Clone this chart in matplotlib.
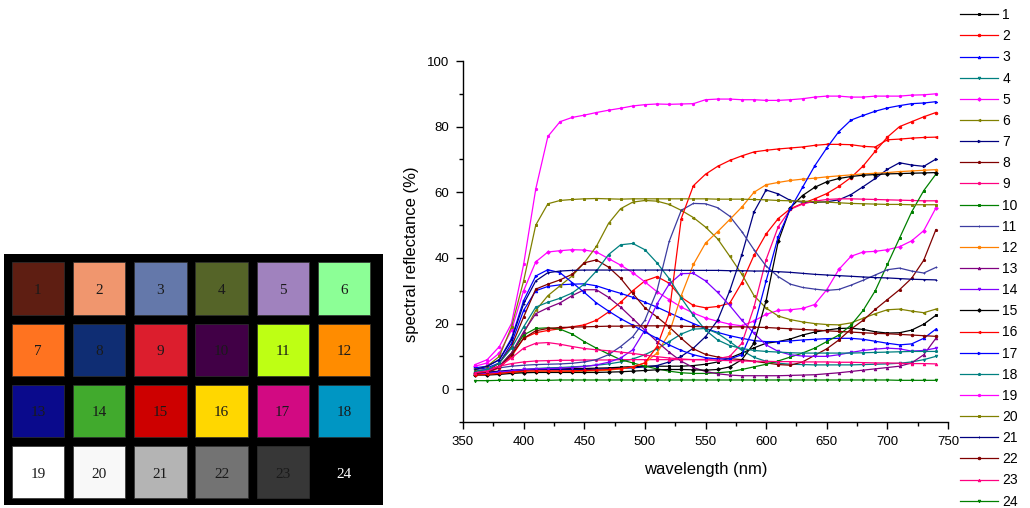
import numpy as np
import matplotlib
matplotlib.use("Agg")
import matplotlib.pyplot as plt
from matplotlib.patches import Rectangle
from matplotlib.ticker import MultipleLocator

plt.rcParams['font.family'] = ['Liberation Sans', 'DejaVu Sans']

# color checker patches (row by row)
patch_labels = [str(i) for i in range(1, 25)]
patch_colors = ['#5e1e12', '#f0966e', '#6478aa', '#556428', '#a082be', '#8cff96',
                '#ff7320', '#0f2d73', '#dc1e2d', '#410046', '#beff14', '#ff8c00',
                '#0a0a8c', '#41aa2d', '#cd0000', '#ffd700', '#d20a82', '#0096c3',
                '#ffffff', '#f8f8f8', '#b4b4b4', '#737373', '#373737', '#000000']

# spectral reflectance (%), 360-740 nm every 10 nm
wavelength = list(range(360, 741, 10))

r1 = [5.0, 5.0, 5.2, 5.5, 5.8, 6.0, 6.1, 6.2, 6.3, 6.3, 6.4, 6.5, 6.7, 6.9, 7.0, 7.0, 7.0, 7.0, 7.2, 7.6,
      8.3, 9.5, 11.0, 12.6, 14.0, 14.5, 15.3, 16.5, 17.4, 18.0, 18.5, 18.6, 18.2, 17.5, 17.1, 17.2, 18.0, 19.8, 22.5]
r2 = [4.5, 5.0, 6.5, 10.0, 15.5, 17.2, 17.9, 18.4, 19.0, 19.6, 21.0, 23.5, 26.5, 30.0, 33.0, 34.3, 32.3, 28.0, 25.5, 24.8,
      25.2, 26.2, 32.5, 40.8, 47.3, 52.0, 55.0, 56.6, 58.0, 59.6, 61.8, 64.5, 68.0, 72.5, 76.8, 80.0, 81.5, 83.0, 84.3]
r3 = [6.0, 6.5, 8.0, 14.0, 24.0, 30.0, 31.3, 31.8, 32.0, 32.1, 31.5, 30.3, 29.2, 28.0, 26.5, 25.0, 23.3, 21.6, 20.0, 18.5,
      17.3, 16.3, 15.5, 14.8, 14.5, 14.5, 14.7, 15.0, 15.2, 15.4, 15.5, 15.5, 15.2, 14.6, 14.0, 13.5, 13.8, 15.5, 18.3]
r4 = [4.5, 4.7, 5.0, 5.5, 6.0, 6.3, 6.5, 6.6, 6.8, 7.0, 7.3, 7.7, 8.3, 9.2, 10.5, 12.3, 14.5, 16.8, 18.3, 18.5,
      17.0, 14.5, 11.8, 9.7, 8.5, 7.9, 7.6, 7.5, 7.4, 7.4, 7.4, 7.4, 7.5, 7.6, 7.7, 7.9, 8.3, 9.0, 10.0]
r5 = [7.0, 8.0, 11.0, 18.0, 30.0, 38.8, 41.8, 42.2, 42.5, 42.4, 41.8, 39.8, 37.8, 35.5, 32.7, 29.7, 27.3, 25.0, 23.2, 21.7,
      20.7, 19.8, 19.3, 20.8, 22.8, 24.0, 24.2, 24.6, 25.8, 30.3, 36.5, 40.5, 41.8, 42.0, 42.5, 43.4, 45.2, 48.3, 55.2]
r6 = [5.0, 5.5, 7.0, 11.0, 17.0, 24.0, 28.5, 31.5, 34.5, 38.5, 43.5, 50.5, 55.0, 57.0, 57.5, 57.3, 56.3, 54.5, 52.3, 49.4,
      45.8, 40.5, 35.0, 28.5, 24.7, 22.3, 21.2, 20.5, 20.0, 19.7, 19.6, 20.2, 21.6, 23.0, 24.2, 24.4, 23.8, 23.3, 24.4]
r7 = [5.0, 5.2, 5.5, 5.8, 6.0, 6.0, 6.0, 6.0, 6.0, 6.0, 6.1, 6.2, 6.3, 6.5, 6.8, 7.2, 8.3, 10.0, 12.5, 16.0,
      21.0, 30.0, 41.0, 54.0, 60.7, 59.5, 57.5, 57.0, 56.9, 57.1, 57.7, 59.3, 61.7, 64.2, 67.0, 69.0, 68.3, 67.9, 70.1]
r8 = [5.0, 5.5, 8.0, 13.0, 22.0, 30.5, 32.0, 33.3, 35.0, 38.5, 39.4, 37.2, 33.8, 29.2, 24.8, 22.0, 19.0, 15.5, 12.3, 10.6,
      9.8, 9.3, 9.0, 8.5, 8.0, 7.5, 7.3, 8.3, 10.3, 12.3, 15.0, 18.3, 21.0, 24.3, 27.3, 30.3, 33.8, 39.3, 48.6]
r9 = [5.5, 6.0, 7.0, 7.8, 8.3, 8.6, 8.7, 8.8, 8.8, 8.9, 8.9, 8.9, 9.0, 9.0, 9.0, 9.0, 9.0, 9.0, 9.0, 9.1,
      9.3, 10.0, 14.0, 25.0, 39.5, 49.5, 54.8, 56.4, 57.3, 57.8, 58.0, 58.0, 57.9, 57.8, 57.7, 57.6, 57.5, 57.4, 57.4]
r10 = [4.5, 5.0, 7.0, 11.0, 16.5, 18.5, 18.7, 18.3, 16.8, 14.5, 12.5, 10.7, 9.0, 8.0, 7.0, 6.2, 5.5, 5.0, 4.8, 4.8,
       5.0, 5.3, 6.0, 6.8, 7.6, 8.6, 9.8, 11.0, 12.5, 14.5, 16.5, 19.5, 24.0, 30.0, 38.0, 46.0, 54.0, 60.5, 65.5]
r11 = [5.5, 6.0, 6.5, 7.0, 7.3, 7.5, 7.6, 7.7, 7.9, 8.3, 9.0, 10.5, 13.0, 16.0, 21.0, 30.0, 45.0, 54.5, 56.6, 56.5,
       55.3, 52.7, 48.0, 42.5, 37.5, 34.3, 32.0, 31.0, 30.5, 30.1, 30.4, 31.7, 33.2, 34.8, 36.4, 36.9, 36.0, 35.4, 37.1]
r12 = [4.5, 4.6, 4.8, 5.0, 5.2, 5.3, 5.3, 5.3, 5.4, 5.5, 5.6, 5.8, 6.2, 6.8, 8.0, 11.0, 17.0, 28.5, 38.0, 44.5,
       48.0, 51.7, 55.5, 60.0, 62.3, 63.0, 63.6, 64.0, 64.3, 64.7, 65.0, 65.3, 65.6, 65.8, 66.0, 66.3, 66.5, 66.7, 66.9]
r13 = [4.5, 5.0, 7.0, 11.0, 17.5, 23.0, 24.8, 26.3, 28.5, 30.3, 30.3, 28.0, 25.0, 21.5, 18.0, 14.5, 11.3, 8.5, 6.6, 5.4,
       4.7, 4.3, 4.1, 4.1, 4.1, 4.1, 4.2, 4.3, 4.4, 4.7, 5.0, 5.4, 5.8, 6.2, 6.6, 7.0, 8.0, 10.5, 15.5]
r14 = [4.5, 4.8, 5.2, 5.6, 6.0, 6.2, 6.3, 6.4, 6.6, 6.9, 7.4, 8.2, 9.5, 12.0, 18.0, 26.0, 32.0, 35.2, 35.3, 33.0,
       29.5, 25.5, 21.0, 17.0, 13.5, 11.5, 10.5, 10.1, 10.0, 10.0, 10.5, 11.2, 11.8, 12.2, 12.5, 12.3, 11.6, 11.8, 12.5]
r15 = [4.3, 4.3, 4.5, 4.8, 5.0, 5.1, 5.1, 5.1, 5.1, 5.1, 5.1, 5.2, 5.3, 5.5, 5.7, 5.9, 6.0, 6.0, 5.9, 5.8,
       6.0, 6.8, 9.0, 14.0, 27.0, 45.0, 55.3, 59.0, 61.5, 63.2, 64.2, 64.8, 65.2, 65.4, 65.6, 65.7, 65.8, 65.9, 66.0]
r16 = [4.3, 4.5, 4.8, 5.2, 5.5, 5.6, 5.6, 5.6, 5.6, 5.7, 5.8, 6.0, 6.3, 6.8, 8.0, 13.0, 23.0, 52.0, 62.0, 65.5,
       67.9, 69.7, 71.1, 72.3, 72.8, 73.2, 73.5, 73.8, 74.3, 74.6, 74.6, 74.5, 74.0, 73.8, 76.0, 76.2, 76.5, 76.7, 76.8]
r17 = [6.5, 7.0, 9.0, 15.5, 27.0, 34.5, 36.4, 35.5, 32.5, 29.5, 26.3, 23.8, 21.5, 19.5, 17.4, 15.5, 13.5, 11.8, 10.5, 9.6,
       9.2, 9.2, 10.5, 19.0, 33.0, 46.5, 55.0, 61.5, 68.0, 73.5, 78.5, 82.0, 83.4, 84.7, 85.7, 86.4, 87.0, 87.2, 87.6]
r18 = [5.5, 6.0, 8.0, 12.5, 19.0, 25.0, 26.5, 27.7, 29.3, 32.0, 36.0, 41.0, 44.0, 44.4, 42.5, 38.5, 33.7, 27.8, 22.5, 18.0,
       15.0, 13.3, 12.4, 11.8, 11.5, 11.3, 11.1, 11.0, 11.0, 11.0, 11.0, 11.0, 11.1, 11.2, 11.3, 11.4, 11.5, 11.5, 11.5]
r19 = [7.5, 9.0, 13.0, 20.0, 38.0, 61.0, 77.0, 81.5, 82.8, 83.5, 84.3, 85.0, 85.6, 86.3, 86.7, 86.9, 86.8, 86.9, 87.0, 88.2,
       88.4, 88.4, 88.2, 88.2, 88.0, 88.0, 88.2, 88.5, 89.0, 89.3, 89.3, 89.0, 89.0, 89.3, 89.3, 89.3, 89.6, 89.7, 90.0]
r20 = [6.0, 7.0, 10.0, 19.0, 33.0, 50.0, 56.5, 57.5, 57.8, 58.0, 58.1, 58.0, 57.9, 58.0, 58.0, 58.0, 58.0, 58.0, 58.0, 58.0,
       57.9, 57.9, 57.9, 57.8, 57.7, 57.5, 57.4, 57.3, 57.1, 57.0, 56.8, 56.6, 56.5, 56.4, 56.3, 56.3, 56.2, 56.2, 56.2]
r21 = [6.0, 7.0, 9.0, 15.0, 26.0, 33.0, 35.5, 36.0, 36.2, 36.3, 36.3, 36.3, 36.3, 36.3, 36.3, 36.3, 36.3, 36.2, 36.2, 36.2,
       36.2, 36.1, 36.1, 36.0, 36.0, 35.8, 35.6, 35.3, 35.0, 34.8, 34.6, 34.4, 34.2, 34.0, 33.9, 33.7, 33.5, 33.4, 33.3]
r22 = [4.8, 5.2, 6.8, 10.5, 15.5, 17.8, 18.5, 18.8, 18.9, 19.0, 19.1, 19.2, 19.2, 19.3, 19.3, 19.3, 19.3, 19.2, 19.1, 19.0,
       19.0, 19.0, 19.0, 18.9, 18.8, 18.6, 18.4, 18.2, 18.0, 17.8, 17.6, 17.4, 17.2, 17.0, 16.9, 16.7, 16.5, 16.3, 16.1]
r23 = [5.0, 5.5, 7.0, 9.5, 12.5, 14.0, 14.2, 13.7, 13.0, 12.4, 12.0, 11.7, 11.3, 10.9, 10.4, 9.9, 9.5, 9.2, 9.0, 8.9,
       8.8, 8.7, 8.6, 8.5, 8.5, 8.4, 8.4, 8.3, 8.3, 8.3, 8.2, 8.2, 8.1, 8.0, 8.0, 7.9, 7.8, 7.8, 7.7]
r24 = [2.6, 2.6, 2.7, 2.7, 2.7, 2.7, 2.7, 2.8, 2.8, 2.8, 2.8, 2.8, 2.8, 2.8, 2.8, 2.8, 2.8, 2.8, 2.8, 2.8,
       2.8, 2.8, 2.8, 2.8, 2.8, 2.8, 2.8, 2.8, 2.8, 2.8, 2.8, 2.8, 2.8, 2.8, 2.8, 2.7, 2.7, 2.7, 2.7]

spectra = [r1, r2, r3, r4, r5, r6, r7, r8, r9, r10, r11, r12,
           r13, r14, r15, r16, r17, r18, r19, r20, r21, r22, r23, r24]
line_colors = ['#000000', '#ff0000', '#0000ff', '#008080', '#ff00ff', '#808000',
               '#000080', '#800000', '#ff0080', '#008000', '#3c3ca0', '#ff8000',
               '#800080', '#8000ff', '#000000', '#ff0000', '#0000ff', '#008080',
               '#ff00ff', '#808000', '#000080', '#800000', '#ff0080', '#008000']
markers = ['s', 'o', '^', 'v', 'D', '<', '>', 'p', 'h', 's', '+', 'o',
           '^', 'v', 'D', '<', '>', 'p', 'h', 's', '+', 'o', '^', 'v']

fig = plt.figure(figsize=(10.3, 5.08), dpi=100)

# --- color checker image ---
axc = fig.add_axes([4 / 1030, 3 / 508, 379 / 1030, 251 / 508])
axc.set_facecolor('black')
axc.set_xlim(0, 379)
axc.set_ylim(251, 0)
axc.set_xticks([])
axc.set_yticks([])
for s in axc.spines.values():
    s.set_visible(False)
pitch = 61.2
size = 52.5
for i, (lab, col) in enumerate(zip(patch_labels, patch_colors)):
    r, c = divmod(i, 6)
    x0 = 7.7 + c * pitch
    y0 = 8.3 + r * pitch
    if i < 23:
        axc.add_patch(Rectangle((x0, y0), size, size, facecolor=col, edgecolor='#303030', lw=0.5))
    tc = 'white' if i == 23 else '#1a1a1a'
    axc.text(x0 + size / 2, y0 + size / 2 + 2, lab, ha='center', va='center',
             fontsize=11, color=tc, family=['Liberation Serif', 'DejaVu Serif'])

# --- reflectance curves ---
ax = fig.add_axes([463 / 1030, 1 - 422 / 508, 485 / 1030, 361 / 508])
handles = []
for i, y in enumerate(spectra):
    h, = ax.plot(wavelength, y, color=line_colors[i], lw=0.9, marker=markers[i],
                 markersize=1.8, markeredgewidth=0.7, label=str(i + 1))
    handles.append(h)

ax.set_xlim(350, 750)
ax.set_ylim(-10, 100)
ax.xaxis.set_major_locator(MultipleLocator(50))
ax.xaxis.set_minor_locator(MultipleLocator(25))
ax.yaxis.set_major_locator(MultipleLocator(20))
ax.yaxis.set_minor_locator(MultipleLocator(10))
ax.spines['top'].set_visible(False)
ax.spines['right'].set_visible(False)
ax.spines['left'].set_linewidth(1.0)
ax.spines['bottom'].set_linewidth(1.0)
ax.tick_params(which='major', direction='out', length=5, width=1.0, labelsize=9.5, pad=5)
ax.tick_params(which='minor', direction='out', length=3, width=1.0)
ax.set_xlabel('wavelength (nm)', fontsize=12)
ax.set_ylabel('spectral reflectance (%)', fontsize=12)
ax.xaxis.set_label_coords(0.501, -0.11)
ax.yaxis.set_label_coords(-0.09, 0.465)

fig.legend(handles=handles, loc='upper left', bbox_to_anchor=(960 / 1030, 0.984),
           frameon=False, fontsize=10, handlelength=2.7, handletextpad=0.35,
           labelspacing=0.515, borderpad=0, borderaxespad=0)

plt.savefig('out.png', dpi=100)
